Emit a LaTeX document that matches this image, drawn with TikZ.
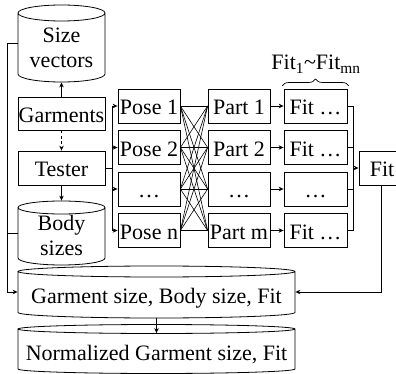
\documentclass[tikz,border=0pt]{standalone}
\usepackage{fontspec}
\setmainfont{Liberation Serif}
\usetikzlibrary{arrows.meta,decorations.pathreplacing}
\begin{document}
\begin{tikzpicture}[x=1pt,y=-1pt,
  font=\fontsize{22}{25}\selectfont, line width=0.8pt,
  boxn/.style={draw, minimum width=62pt, minimum height=34pt, inner sep=0pt, text height=18pt, text depth=0pt},
  lbox/.style={draw, minimum width=87pt, minimum height=34pt, inner sep=0pt, text height=18pt, text depth=0pt},
  extent/.style={inner sep=0pt, minimum width=#1},
  txt/.style={inner sep=0pt, align=center},
  arr/.style={-{Stealth[length=5pt,width=4.5pt]}},
]
\useasboundingbox (0,0) rectangle (396,374);

% ---- Size vectors cylinder
\node[extent=87pt, minimum height=77pt] (sv) at (61.5,43.5) {};
\draw (18,13) -- (18,74) arc[start angle=180,end angle=360,x radius=43.5pt,y radius=8pt]
      -- (105,13) arc[start angle=0,end angle=360,x radius=43.5pt,y radius=8pt];
\node[txt] (svt) at (61.5,48) {Size\\vectors};

% ---- Garments, Tester
\node[lbox, minimum height=33pt] (g) at (61.5,113.5) {Garments};
\node[lbox] (t) at (61.5,168) {Tester};

% ---- Body sizes cylinder
\node[extent=87pt, minimum height=64pt] (bs) at (61.5,233) {};
\draw (18,207.5) -- (18,258) arc[start angle=180,end angle=360,x radius=43.5pt,y radius=7pt]
      -- (105,207.5) arc[start angle=0,end angle=360,x radius=43.5pt,y radius=6.5pt];
\node[txt] (bst) at (61.5,235) {Body\\sizes};

% ---- Garment size, Body size, Fit cylinder
\node[extent=277pt, minimum height=52pt] (gs) at (156.5,292) {};
\draw (18,271.5) -- (18,312.5) arc[start angle=180,end angle=360,x radius=138.5pt,y radius=5.5pt]
      -- (295,271.5) arc[start angle=0,end angle=360,x radius=138.5pt,y radius=5.5pt];
\node[txt, anchor=base] (gst) at (156.5,303) {Garment size, Body size, Fit};

% ---- Normalized cylinder
\node[extent=277pt, minimum height=49pt] (nc) at (156.5,349) {};
\draw (18,329) -- (18,369) arc[start angle=180,end angle=360,x radius=138.5pt,y radius=4.5pt]
      -- (295,329) arc[start angle=0,end angle=360,x radius=138.5pt,y radius=4.5pt];
\node[txt, anchor=base] (nct) at (156.5,360) {Normalized Garment size, Fit};

% ---- Poses
\node[boxn] (p1) at (149,106) {Pose 1};
\node[boxn] (p2) at (149,147.5) {Pose 2};
\node[boxn] (p3) at (149,189) {…};
\node[boxn] (pn) at (149,230.5) {Pose n};

% ---- Parts
\node[boxn] (q1) at (239,106) {Part 1};
\node[boxn] (q2) at (239,147.5) {Part 2};
\node[boxn] (q3) at (239,189) {…};
\node[boxn] (qm) at (239,230.5) {Part m};

% ---- Fits
\node[boxn, minimum width=63pt] (f1) at (315.5,106) {Fit …};
\node[boxn, minimum width=63pt] (f2) at (315.5,147.5) {Fit …};
\node[boxn, minimum width=63pt] (f3) at (315.5,189) {…};
\node[boxn, minimum width=63pt] (fm) at (315.5,230.5) {Fit …};

\node[boxn, minimum width=46pt] (F) at (382,168) {Fit};

% ---- brace label
\draw[decorate, decoration={brace, amplitude=7pt}, line width=0.7pt] (282,86) -- (349,86);
\node[txt, anchor=base] (fl) at (316,70) {Fit\textsubscript{1}\textasciitilde Fit\textsubscript{mn}};

% ---- connectors
\coordinate (lb) at (7,0);
\coordinate (tb) at (112,0);
\coordinate (fb) at (353,0);

\draw[arr] (g.north) -- (sv.south);
\draw[arr, dash pattern=on 3pt off 2.5pt] (g.south) -- (t.north);
\draw[arr] (t.south) -- (bs.north);

\draw (t.east) -- (tb |- t.east);
\draw (tb |- p1) -- (tb |- pn);
\foreach \p in {p1,p2,p3,pn} \draw[arr] (tb |- \p) -- (\p.west);

\foreach \a in {p1,p2,p3,pn}
  \foreach \b in {q1,q2,q3,qm}
    \draw[line width=0.6pt] (\a.east) -- (\b.west);

\draw[arr] (q1) -- (f1);
\draw[arr] (q2) -- (f2);
\draw[arr] (q3) -- (f3);
\draw[arr] (qm) -- (fm);

\foreach \f in {f1,f2,f3,fm} \draw (\f.east) -- (fb |- \f);
\draw (fb |- f1) -- (fb |- fm);
\draw[arr] (fb |- F) -- (F.west);

\draw[arr] ([xshift=-1pt]F.south) |- (gs.east);

\draw (sv.west) -- (lb |- sv.west) -- (lb |- gs.west);
\draw (bs.west) -- (lb |- bs.west);
\draw[arr] (lb |- gs.west) -- (gs.west);

\draw[arr] (gs.south) -- ([yshift=-9pt]nc.north);
\end{tikzpicture}
\end{document}
